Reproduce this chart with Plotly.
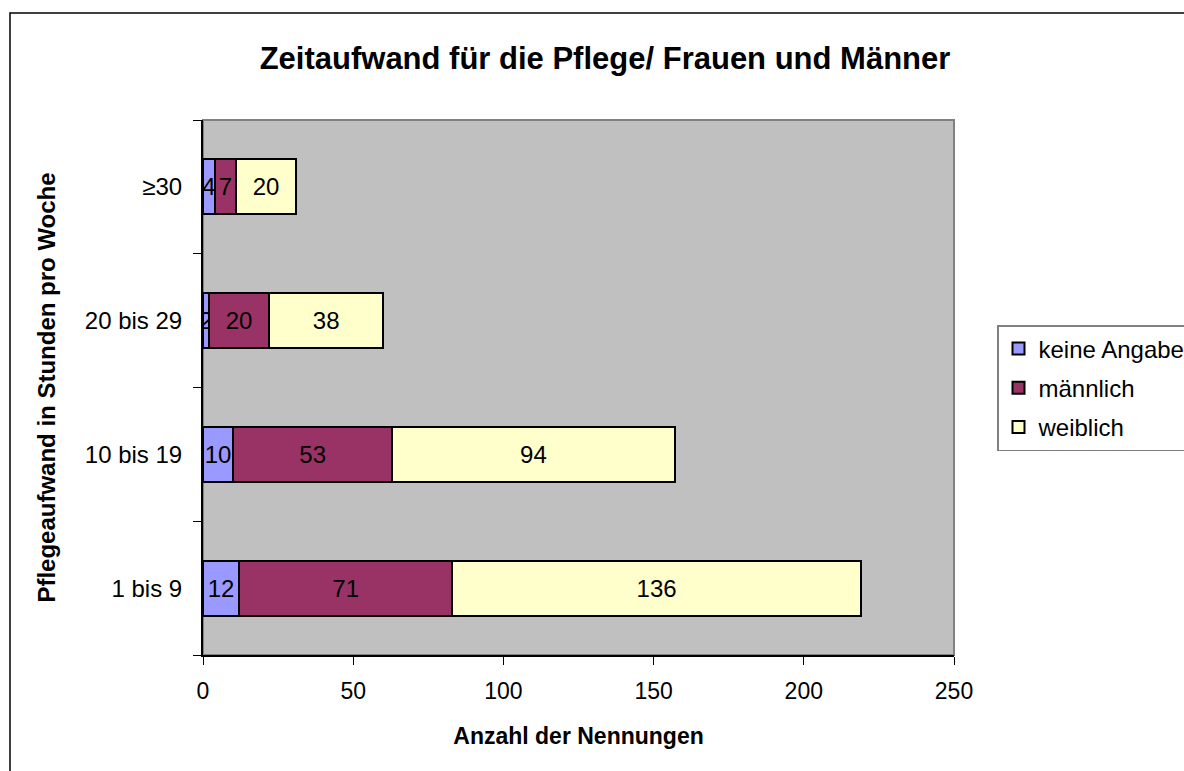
import plotly.graph_objects as go

categories = ["1 bis 9", "10 bis 19", "20 bis 29", "≥30"]
keine_angabe = [12, 10, 2, 4]
maennlich = [71, 53, 20, 7]
weiblich = [136, 94, 38, 20]
x_ticks = [0, 50, 100, 150, 200, 250]

FONT = "Liberation Sans, Arial, sans-serif"

series = [
    ("keine Angabe", keine_angabe, "#9999FF", "g1"),
    ("männlich", maennlich, "#993366", "g2"),
    ("weiblich", weiblich, "#FFFFCC", "g3"),
]

fig = go.Figure()
for name, vals, color, grp in series:
    fig.add_trace(go.Bar(
        y=categories, x=vals, name=name, orientation="h",
        marker=dict(color=color, line=dict(color="black", width=2)),
        text=[str(v) for v in vals], textposition="inside",
        insidetextanchor="middle", constraintext="none",
        textfont=dict(family=FONT, size=24, color="black"),
        legendgroup=grp,
    ))

fig.update_layout(
    width=1184, height=771,
    barmode="stack", bargap=0.59,
    paper_bgcolor="white", plot_bgcolor="#C0C0C0",
    margin=dict(l=203, r=230, t=120, b=116, autoexpand=False),
    font=dict(family=FONT, size=24, color="black"),
    title=dict(text="<b>Zeitaufwand für die Pflege/ Frauen und Männer</b>",
               x=(605 - 0) / 1184, xref="container", xanchor="center",
               y=1 - 58 / 771, yanchor="middle",
               font=dict(family=FONT, size=31, color="black")),
    xaxis=dict(range=[0, 250], tickvals=x_ticks, showgrid=False, zeroline=False,
               showline=True, linecolor="black", linewidth=2,
               ticks="outside", ticklen=8, tickcolor="black",
               tickfont=dict(size=23),
               ticklabelstandoff=6,
               title=dict(text="<b>Anzahl der Nennungen</b>", standoff=25,
                          font=dict(size=23))),
    yaxis=dict(type="category", categoryorder="array", categoryarray=categories,
               showgrid=False, zeroline=False,
               showline=True, linecolor="black", linewidth=2,
               ticks="outside", ticklen=8, tickcolor="black", tickson="boundaries",
               tickfont=dict(size=24), ticklabelstandoff=14,
               title=dict(text="<b>Pflegeaufwand in Stunden pro Woche</b>", standoff=22,
                          font=dict(size=24))),
    legend=dict(x=(997 - 203) / 751, xanchor="left", y=(655 - 325) / 535, yanchor="top",
                bordercolor="#808080", borderwidth=1.5, bgcolor="white",
                traceorder="grouped", tracegroupgap=5,
                font=dict(size=24)),
    showlegend=True,
)

# plot area border (gray) and outer chart frame (black)
fig.add_shape(type="rect", xref="paper", yref="paper", x0=0, x1=1, y0=0, y1=1,
              line=dict(color="#808080", width=2), layer="below")
fig.add_shape(type="rect", xref="paper", yref="paper",
              x0=(10 - 203) / 751, x1=1.6, y0=-0.5, y1=(655 - 13) / 535,
              line=dict(color="black", width=1.5))

fig.write_html("out.html", config={"displayModeBar": False},
               post_script="document.body.style.margin='0px';")
